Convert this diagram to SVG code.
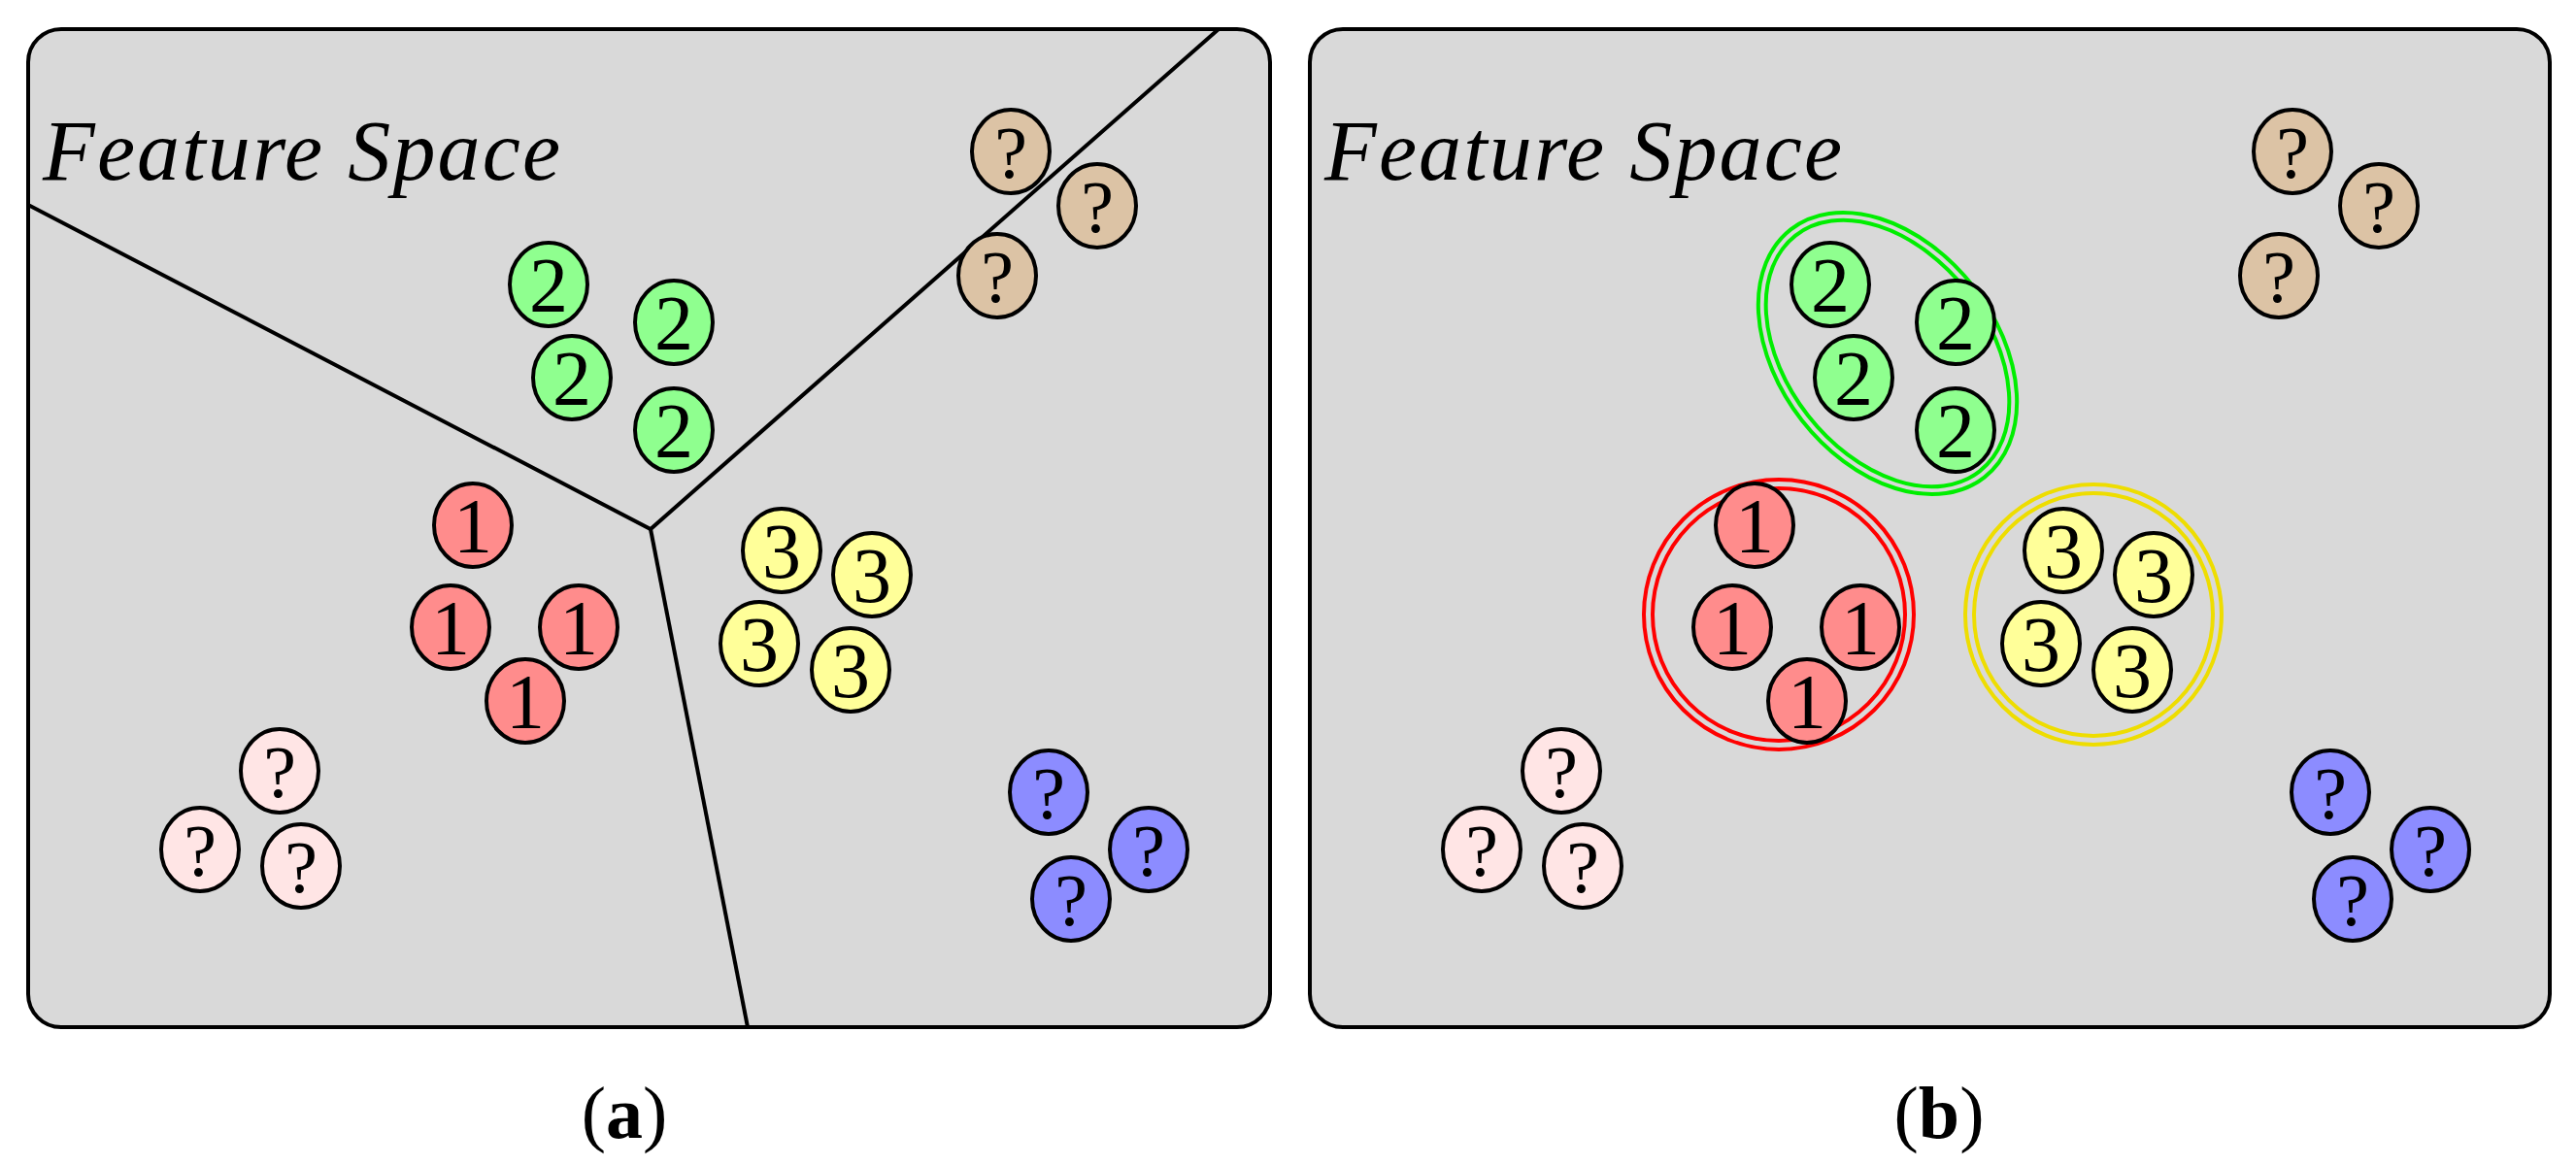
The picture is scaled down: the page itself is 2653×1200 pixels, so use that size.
<svg xmlns="http://www.w3.org/2000/svg" width="2653" height="1200" viewBox="0 0 2653 1200">
<style>
.panel{fill:#d9d9d9;stroke:#000;stroke-width:4}
.g{fill:#8fff8f}.r{fill:#ff8c8c}.y{fill:#ffff99}
.t{fill:#dcc3a5}.p{fill:#ffe5e5}.b{fill:#8c8cff}
.title{font-family:"Liberation Serif",serif;font-style:italic;font-size:88px}
.cap{font-family:"Liberation Serif",serif;font-size:76px;text-anchor:middle}
.edge{stroke:#000;stroke-width:4;fill:none}
.hull{fill:none;stroke-width:4}
</style>
<defs>
<g id="g2"><ellipse rx="40" ry="43" stroke="#000" stroke-width="4"/><text y="28" fill="#000" font-family="Liberation Serif, serif" font-size="80" text-anchor="middle">2</text></g>
<g id="g1"><ellipse rx="40" ry="43" stroke="#000" stroke-width="4"/><text y="28" fill="#000" font-family="Liberation Serif, serif" font-size="80" text-anchor="middle">1</text></g>
<g id="g3"><ellipse rx="40" ry="43" stroke="#000" stroke-width="4"/><text y="28" fill="#000" font-family="Liberation Serif, serif" font-size="80" text-anchor="middle">3</text></g>
<g id="gq"><ellipse rx="40" ry="43" stroke="#000" stroke-width="4"/><text y="27" fill="#000" font-family="Liberation Serif, serif" font-size="76" text-anchor="middle">?</text></g>
</defs>
<g id="panel-a">
<rect class="panel" x="29" y="30" width="1279" height="1028" rx="34"/>
<text class="title" x="44" y="185" textLength="533" lengthAdjust="spacing">Feature Space</text>
</g>
<g id="panel-b">
<rect class="panel" x="1349" y="30" width="1277" height="1028" rx="34"/>
<text class="title" x="1364" y="185" textLength="533" lengthAdjust="spacing">Feature Space</text>
</g>
<g id="connectors">
<polyline class="edge" points="29,211 670,545 1255,30"/>
<line class="edge" x1="670" y1="545" x2="770" y2="1058"/>
</g>
<g id="hulls">
<ellipse class="hull" stroke="#00ee00" cx="1944" cy="364" rx="112" ry="162" transform="rotate(-38 1944 364)"/>
<ellipse class="hull" stroke="#00ee00" cx="1944" cy="364" rx="104" ry="154" transform="rotate(-38 1944 364)"/>
<circle class="hull" stroke="#ff0000" cx="1832" cy="633" r="139"/>
<circle class="hull" stroke="#ff0000" cx="1832" cy="633" r="130"/>
<ellipse class="hull" stroke="#eedd00" cx="2156" cy="633" rx="132" ry="134"/>
<ellipse class="hull" stroke="#eedd00" cx="2156" cy="633" rx="123" ry="125"/>
</g>
<g id="nodes-a">
<g class="g"><use href="#g2" x="565" y="293"/><use href="#g2" x="694" y="332"/><use href="#g2" x="589" y="389"/><use href="#g2" x="694" y="443"/></g>
<g class="r"><use href="#g1" x="487" y="541"/><use href="#g1" x="464" y="646"/><use href="#g1" x="596" y="646"/><use href="#g1" x="541" y="722"/></g>
<g class="y"><use href="#g3" x="805" y="567"/><use href="#g3" x="898" y="592"/><use href="#g3" x="782" y="663"/><use href="#g3" x="876" y="690"/></g>
<g class="t"><use href="#gq" x="1041" y="156"/><use href="#gq" x="1130" y="212"/><use href="#gq" x="1027" y="284"/></g>
<g class="p"><use href="#gq" x="288" y="794"/><use href="#gq" x="206" y="875"/><use href="#gq" x="310" y="892"/></g>
<g class="b"><use href="#gq" x="1080" y="816"/><use href="#gq" x="1183" y="875"/><use href="#gq" x="1103" y="926"/></g>
</g>
<g id="nodes-b" transform="translate(1320,0)">
<g class="g"><use href="#g2" x="565" y="293"/><use href="#g2" x="694" y="332"/><use href="#g2" x="589" y="389"/><use href="#g2" x="694" y="443"/></g>
<g class="r"><use href="#g1" x="487" y="541"/><use href="#g1" x="464" y="646"/><use href="#g1" x="596" y="646"/><use href="#g1" x="541" y="722"/></g>
<g class="y"><use href="#g3" x="805" y="567"/><use href="#g3" x="898" y="592"/><use href="#g3" x="782" y="663"/><use href="#g3" x="876" y="690"/></g>
<g class="t"><use href="#gq" x="1041" y="156"/><use href="#gq" x="1130" y="212"/><use href="#gq" x="1027" y="284"/></g>
<g class="p"><use href="#gq" x="288" y="794"/><use href="#gq" x="206" y="875"/><use href="#gq" x="310" y="892"/></g>
<g class="b"><use href="#gq" x="1080" y="816"/><use href="#gq" x="1183" y="875"/><use href="#gq" x="1103" y="926"/></g>
</g>
<text class="cap" x="643" y="1172">(<tspan font-weight="bold">a</tspan>)</text>
<text class="cap" x="1997" y="1172">(<tspan font-weight="bold">b</tspan>)</text>
</svg>
